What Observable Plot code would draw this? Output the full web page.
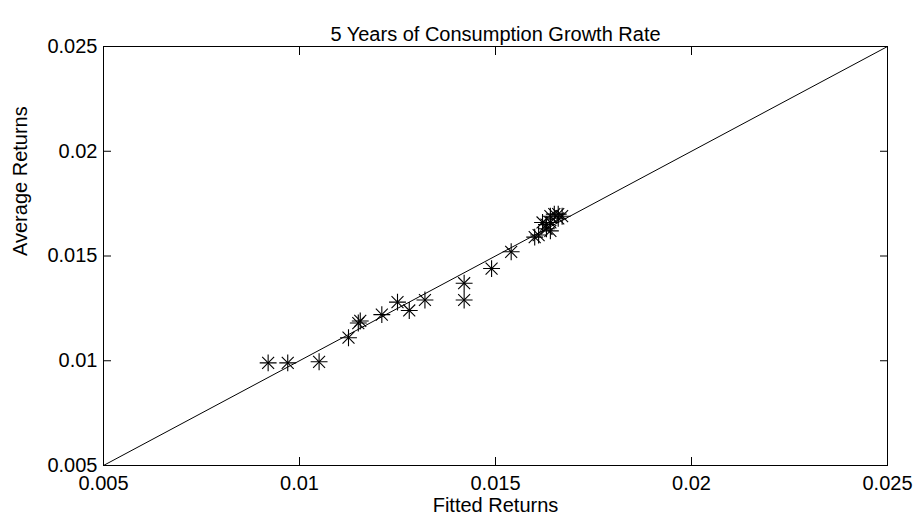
<!DOCTYPE html>
<html><head><meta charset="utf-8">
<script src="https://cdn.jsdelivr.net/npm/d3@7"></script>
<script src="https://cdn.jsdelivr.net/npm/@observablehq/plot@0.6"></script>
<style>
body{margin:0;background:#fff;}
svg{font-family:"Liberation Sans",Arial,sans-serif;}
</style>
</head><body>
<div id="chart"></div>
<script>
const title = "5 Years of Consumption Growth Rate";
const xLabel = "Fitted Returns";
const yLabel = "Average Returns";
const fitted = [0.0092,0.0097,0.0105,0.01125,0.0115,0.01155,0.0121,0.0125,0.0128,0.0132,0.0142,0.0142,0.0149,0.0154,0.0160,0.0161,0.0162,0.0163,0.0163,0.0164,0.0164,0.0165,0.0166,0.0166,0.0167,0.0164];
const average = [0.0099,0.0099,0.00995,0.0111,0.0118,0.0119,0.0122,0.0128,0.0124,0.0129,0.0137,0.0129,0.0144,0.0152,0.0159,0.0160,0.0166,0.0165,0.0163,0.0162,0.0169,0.0170,0.0168,0.0170,0.0169,0.0166];
const diagonal = [0.005, 0.025];
const ticks = [0.005, 0.01, 0.015, 0.02, 0.025];
const tickLabels = ["0.005","0.01","0.015","0.02","0.025"];

const pts = fitted.map((f,i)=>({x:f,y:average[i]}));
const diag = diagonal.map(v=>({x:v,y:v}));
const fmt = d => tickLabels[ticks.indexOf(d)] ?? "";

const chart = Plot.plot({
  width: 919, height: 523,
  marginLeft: 103, marginRight: 32, marginTop: 46, marginBottom: 58,
  style: {fontSize: "20px", fontFamily: "Liberation Sans, Arial, sans-serif", color: "#000", background: "#fff"},
  x: {domain: [0.005, 0.025]},
  y: {domain: [0.005, 0.025]},
  marks: [
    Plot.frame({stroke: "#000", strokeWidth: 1}),
    Plot.axisX(ticks, {anchor: "bottom", tickSize: -8, tickPadding: 18, tickFormat: fmt, fontSize: 20, label: null}),
    Plot.axisX(ticks, {anchor: "top", tickSize: -8, tickFormat: () => "", label: null}),
    Plot.axisY(ticks, {anchor: "left", tickSize: -8, tickPadding: 14, tickFormat: fmt, fontSize: 20, label: null}),
    Plot.axisY(ticks, {anchor: "right", tickSize: -8, tickFormat: () => "", label: null}),
    Plot.line(diag, {x: "x", y: "y", stroke: "#000", strokeWidth: 1}),
    Plot.dot(pts, {x: "x", y: "y", symbol: "plus", r: 5.5, stroke: "#000", strokeWidth: 1.1}),
    Plot.dot(pts, {x: "x", y: "y", symbol: "times", r: 5.5, stroke: "#000", strokeWidth: 1.1}),
    Plot.text([title], {frameAnchor: "top", dy: -20, text: d => d, fontSize: 20}),
    Plot.text([xLabel], {frameAnchor: "bottom", dy: 46, text: d => d, fontSize: 20}),
    Plot.text([yLabel], {frameAnchor: "left", dx: -83, rotate: -90, text: d => d, fontSize: 20})
  ]
});
document.getElementById("chart").appendChild(chart);
</script>
</body></html>
